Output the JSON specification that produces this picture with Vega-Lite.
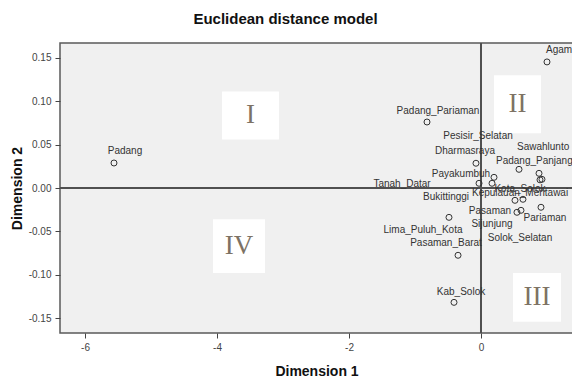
{
  "$schema": "https://vega.github.io/schema/vega-lite/v6.json",
  "width": 513,
  "height": 290,
  "autosize": {"type": "none"},
  "padding": {"left": 60, "top": 43, "right": 0, "bottom": 45},
  "background": "white",
  "title": {"text": "Euclidean distance model", "font": "Liberation Sans", "fontSize": 15, "fontWeight": "bold", "color": "#111111", "anchor": "middle", "dx": -31, "baseline": "alphabetic", "offset": 3},
  "config": {
    "view": {"fill": "#f0f0f0", "stroke": "#5a5a5a", "strokeWidth": 1.5},
    "axis": {"labelFont": "Liberation Sans", "labelFontSize": 10, "labelColor": "#444444", "tickColor": "#444444", "tickSize": 5, "labelPadding": 4, "domain": false, "grid": false, "titleFont": "Liberation Sans", "titleFontSize": 14, "titleFontWeight": "bold", "titleColor": "#111111"}
  },
  "datasets": {
    "regions": [
      {"name": "Padang", "d1": -5.561, "d2": 0.0288},
      {"name": "Agam", "d1": 1.0, "d2": 0.1452},
      {"name": "Padang_Pariaman", "d1": -0.818, "d2": 0.0760},
      {"name": "Kab_Solok", "d1": -0.409, "d2": -0.1317},
      {"name": "Pasaman_Barat", "d1": -0.348, "d2": -0.0775},
      {"name": "Lima_Puluh_Kota", "d1": -0.485, "d2": -0.0338},
      {"name": "Dharmasraya", "d1": -0.076, "d2": 0.0285},
      {"name": "Pesisir_Selatan", "d1": 0.576, "d2": 0.0215},
      {"name": "Sawahlunto", "d1": 0.879, "d2": 0.0169},
      {"name": "Padang_Panjang", "d1": 0.894, "d2": 0.0094},
      {"name": "Kota_Solok", "d1": 0.924, "d2": 0.0100},
      {"name": "Payakumbuh", "d1": 0.197, "d2": 0.0123},
      {"name": "Tanah_Datar", "d1": -0.030, "d2": 0.0054},
      {"name": "Bukittinggi", "d1": 0.167, "d2": 0.0054},
      {"name": "Pasaman", "d1": 0.515, "d2": -0.0142},
      {"name": "Kepulauan_Mentawai", "d1": 0.636, "d2": -0.0130},
      {"name": "Pariaman", "d1": 0.909, "d2": -0.0222},
      {"name": "Solok_Selatan", "d1": 0.606, "d2": -0.0257},
      {"name": "Sijunjung", "d1": 0.545, "d2": -0.0280}
    ],
    "quadrants": [
      {"q": "I", "x1": -3.924, "x2": -3.061, "y1": 0.056, "y2": 0.111, "tx": -3.492, "ty": 0.0838},
      {"q": "II", "x1": 0.197, "x2": 0.909, "y1": 0.063, "y2": 0.130, "tx": 0.553, "ty": 0.0964},
      {"q": "III", "x1": 0.485, "x2": 1.212, "y1": -0.154, "y2": -0.098, "tx": 0.848, "ty": -0.1259},
      {"q": "IV", "x1": -4.061, "x2": -3.273, "y1": -0.098, "y2": -0.036, "tx": -3.667, "ty": -0.0672}
    ]
  },
  "layer": [
    {
      "data": {"name": "quadrants"},
      "mark": {"type": "rect", "fill": "white"},
      "encoding": {
        "x": {"field": "x1", "type": "quantitative", "scale": {"domain": [-6.379, 1.394], "nice": false, "zero": false}, "axis": {"values": [-6, -4, -2, 0], "format": "d", "title": "Dimension 1", "titleY": 38, "titleBaseline": "middle", "labelExpr": "replace(datum.label, '\u2212', '-')"}},
        "x2": {"field": "x2"},
        "y": {"field": "y1", "type": "quantitative", "scale": {"domain": [-0.167, 0.167], "nice": false, "zero": false}, "axis": {"values": [-0.15, -0.1, -0.05, 0, 0.05, 0.1, 0.15], "format": ".2f", "title": "Dimension 2", "titleX": -43, "titleBaseline": "middle", "labelExpr": "replace(datum.label, '\u2212', '-')"}},
        "y2": {"field": "y2"}
      }
    },
    {
      "data": {"name": "quadrants"},
      "mark": {"type": "text", "font": "Liberation Serif", "fontSize": 27, "color": "#7d7264", "baseline": "middle", "align": "center"},
      "encoding": {
        "x": {"field": "tx", "type": "quantitative"},
        "y": {"field": "ty", "type": "quantitative"},
        "text": {"field": "q"}
      }
    },
    {
      "data": {"values": [{"v": 0}]},
      "mark": {"type": "rule", "color": "#505050", "strokeWidth": 2},
      "encoding": {"x": {"field": "v", "type": "quantitative"}}
    },
    {
      "data": {"values": [{"v": 0}]},
      "mark": {"type": "rule", "color": "#505050", "strokeWidth": 2},
      "encoding": {"y": {"field": "v", "type": "quantitative"}}
    },
    {
      "data": {"name": "regions"},
      "mark": {"type": "point", "shape": "circle", "filled": false, "size": 36, "stroke": "#333333", "strokeWidth": 1, "opacity": 1},
      "encoding": {
        "x": {"field": "d1", "type": "quantitative"},
        "y": {"field": "d2", "type": "quantitative"}
      }
    },
    {
      "data": {"name": "regions"},
      "encoding": {
        "x": {"field": "d1", "type": "quantitative"},
        "y": {"field": "d2", "type": "quantitative"},
        "text": {"field": "name"}
      },
      "layer": [
        {"transform": [{"filter": "datum.name == 'Padang'"}], "mark": {"type": "text", "font": "Liberation Sans", "fontSize": 10, "color": "#333333", "baseline": "middle", "align": "center", "dx": 11, "dy": -12}},
        {"transform": [{"filter": "datum.name == 'Agam'"}], "mark": {"type": "text", "font": "Liberation Sans", "fontSize": 10, "color": "#333333", "baseline": "middle", "align": "left", "dx": -1, "dy": -12}},
        {"transform": [{"filter": "datum.name == 'Padang_Pariaman'"}], "mark": {"type": "text", "font": "Liberation Sans", "fontSize": 10, "color": "#333333", "baseline": "middle", "align": "center", "dx": 11, "dy": -11}},
        {"transform": [{"filter": "datum.name == 'Kab_Solok'"}], "mark": {"type": "text", "font": "Liberation Sans", "fontSize": 10, "color": "#333333", "baseline": "middle", "align": "center", "dx": 7, "dy": -10}},
        {"transform": [{"filter": "datum.name == 'Pasaman_Barat'"}], "mark": {"type": "text", "font": "Liberation Sans", "fontSize": 10, "color": "#333333", "baseline": "middle", "align": "center", "dx": -12, "dy": -12}},
        {"transform": [{"filter": "datum.name == 'Lima_Puluh_Kota'"}], "mark": {"type": "text", "font": "Liberation Sans", "fontSize": 10, "color": "#333333", "baseline": "middle", "align": "center", "dx": -26, "dy": 13}},
        {"transform": [{"filter": "datum.name == 'Dharmasraya'"}], "mark": {"type": "text", "font": "Liberation Sans", "fontSize": 10, "color": "#333333", "baseline": "middle", "align": "center", "dx": -11, "dy": -12}},
        {"transform": [{"filter": "datum.name == 'Pesisir_Selatan'"}], "mark": {"type": "text", "font": "Liberation Sans", "fontSize": 10, "color": "#333333", "baseline": "middle", "align": "center", "dx": -41, "dy": -33}},
        {"transform": [{"filter": "datum.name == 'Sawahlunto'"}], "mark": {"type": "text", "font": "Liberation Sans", "fontSize": 10, "color": "#333333", "baseline": "middle", "align": "left", "dx": -22, "dy": -26}},
        {"transform": [{"filter": "datum.name == 'Padang_Panjang'"}], "mark": {"type": "text", "font": "Liberation Sans", "fontSize": 10, "color": "#333333", "baseline": "middle", "align": "left", "dx": -44, "dy": -19}},
        {"transform": [{"filter": "datum.name == 'Kota_Solok'"}], "mark": {"type": "text", "font": "Liberation Sans", "fontSize": 10, "color": "#333333", "baseline": "middle", "align": "center", "dx": -22, "dy": 10}},
        {"transform": [{"filter": "datum.name == 'Payakumbuh'"}], "mark": {"type": "text", "font": "Liberation Sans", "fontSize": 10, "color": "#333333", "baseline": "middle", "align": "center", "dx": -33, "dy": -3}},
        {"transform": [{"filter": "datum.name == 'Tanah_Datar'"}], "mark": {"type": "text", "font": "Liberation Sans", "fontSize": 10, "color": "#333333", "baseline": "middle", "align": "center", "dx": -77, "dy": 1}},
        {"transform": [{"filter": "datum.name == 'Bukittinggi'"}], "mark": {"type": "text", "font": "Liberation Sans", "fontSize": 10, "color": "#333333", "baseline": "middle", "align": "center", "dx": -46, "dy": 14}},
        {"transform": [{"filter": "datum.name == 'Pasaman'"}], "mark": {"type": "text", "font": "Liberation Sans", "fontSize": 10, "color": "#333333", "baseline": "middle", "align": "center", "dx": -25, "dy": 11}},
        {"transform": [{"filter": "datum.name == 'Kepulauan_Mentawai'"}], "mark": {"type": "text", "font": "Liberation Sans", "fontSize": 10, "color": "#333333", "baseline": "middle", "align": "left", "dx": -51, "dy": -6}},
        {"transform": [{"filter": "datum.name == 'Pariaman'"}], "mark": {"type": "text", "font": "Liberation Sans", "fontSize": 10, "color": "#333333", "baseline": "middle", "align": "center", "dx": 4, "dy": 11}},
        {"transform": [{"filter": "datum.name == 'Solok_Selatan'"}], "mark": {"type": "text", "font": "Liberation Sans", "fontSize": 10, "color": "#333333", "baseline": "middle", "align": "center", "dx": -1, "dy": 28}},
        {"transform": [{"filter": "datum.name == 'Sijunjung'"}], "mark": {"type": "text", "font": "Liberation Sans", "fontSize": 10, "color": "#333333", "baseline": "middle", "align": "center", "dx": -25, "dy": 12}}
      ]
    }
  ]
}
